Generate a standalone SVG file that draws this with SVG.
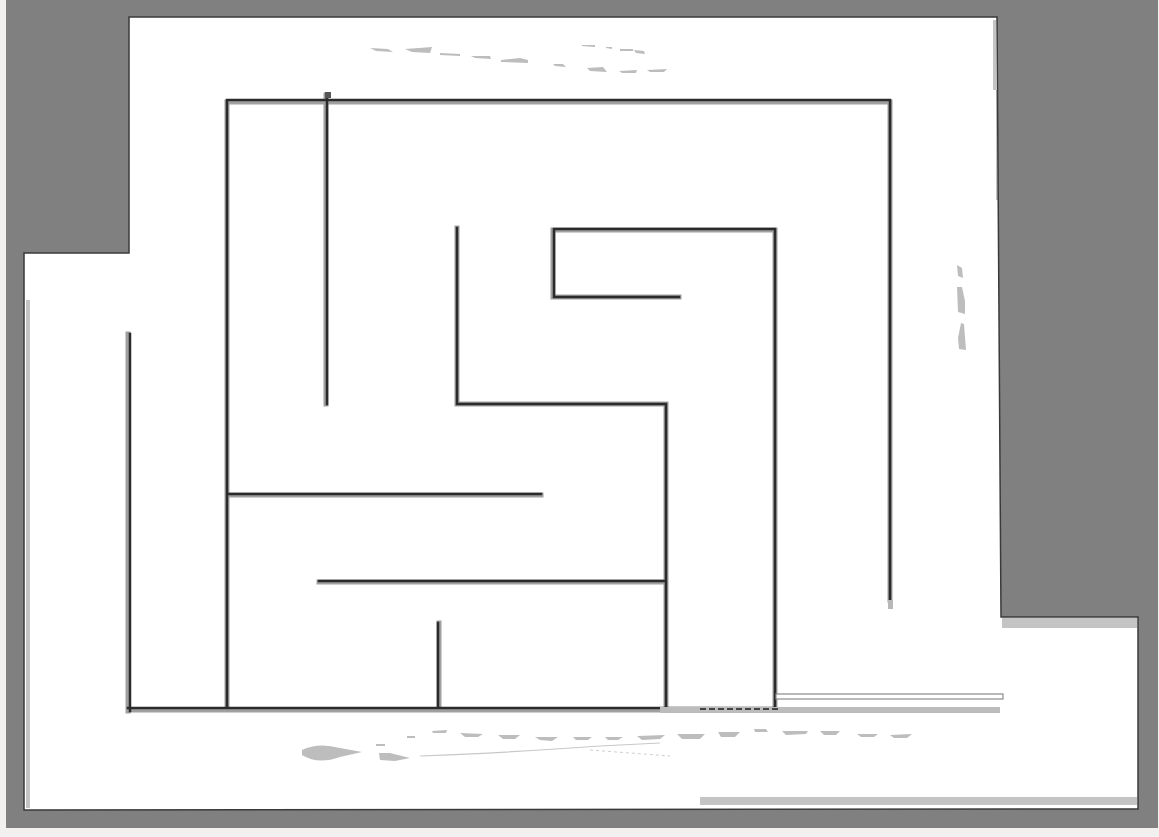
<svg xmlns="http://www.w3.org/2000/svg" width="1159" height="837" viewBox="0 0 1159 837">
<style>
.wall{stroke:#2b2b2b;stroke-width:2.5;fill:none;stroke-linecap:square}
.halo{stroke:#a0a0a0;stroke-width:5;fill:none;stroke-linecap:square}
.edge{stroke:#3a3a3a;stroke-width:1.5;fill:none}
.band{fill:#c4c4c4}
.trace{fill:#bdbdbd}
</style>
<rect x="0" y="0" width="1159" height="837" fill="#f2f1ef"/>
<rect x="6" y="0" width="1152" height="828" fill="#808080"/>
<g id="free-space">
<polygon points="129,17 997,17 1001,617 1138,617 1138,809 24,810 24,253 129,253" fill="#ffffff"/>
<rect class="band" x="1002" y="618" width="135" height="10"/>
<rect class="band" x="700" y="797" width="437" height="8"/>
<rect class="band" x="26" y="300" width="4" height="508"/>
<rect class="band" x="993" y="20" width="3" height="70"/>
<rect class="band" x="996" y="90" width="2" height="110"/>
<polygon class="edge" points="129,17 997,17 1001,617 1138,617 1138,809 24,810 24,253 129,253"/>
</g>
<g id="walls">
<path class="halo" d="M227,102 H890 M227,102 V708 M326,95 V404 M890,102 V600 M128,334 V711 M457,228 V404 H666 V706 M553,230 V297 H679 M553,230 H775 V706 M227,495 H541 M319,582 H666 M439,623 V706 M128,710 H775"/>
<path class="wall" d="M227,100 H890 M227,100 V707 M327,95 V404 M890,100 V600 M130,334 V711 M457,228 V404 H666 V706 M554,229 V297 H679 M554,229 H775 V706 M227,494 H541 M319,581 H666 M438,623 V706 M128,708 H775"/>
<rect x="888" y="600" width="5" height="9" fill="#b8b8b8"/>
<rect x="776" y="694" width="227" height="5" fill="#ffffff" stroke="#8a8a8a" stroke-width="1.2"/>
<rect x="660" y="707" width="340" height="6" fill="#bcbcbc"/>
<line x1="700" y1="709" x2="780" y2="709" stroke="#444" stroke-width="2" stroke-dasharray="6,3"/>
<rect x="325" y="92" width="6" height="6" fill="#555"/>
</g>
<g id="laser-traces">
<polygon class="trace" points="370,48 388,49 393,52 376,51"/>
<polygon class="trace" points="405,49 432,47 430,53 412,52" fill="#999"/>
<polygon class="trace" points="440,53 460,54 460,56 440,55"/>
<polygon class="trace" points="471,56 490,56 491,59 475,58"/>
<polygon class="trace" points="501,60 520,58 528,60 528,63 501,62"/>
<polygon class="trace" points="553,64 563,64 566,67 555,66"/>
<polygon class="trace" points="587,68 603,67 607,72 590,71"/>
<polygon class="trace" points="619,71 637,70 636,73 622,73"/>
<polygon class="trace" points="647,70 667,69 664,72 650,72"/>
<polygon class="trace" points="582,45 595,45 595,47 582,46"/>
<polygon class="trace" points="606,47 612,47 612,49 606,48"/>
<polygon class="trace" points="620,49 633,49 633,51 620,51"/>
<polygon class="trace" points="634,50 644,51 645,54 636,53"/>
<polygon class="trace" points="957,265 962,268 963,278 958,276"/>
<polygon class="trace" points="957,287 962,287 965,301 965,314 958,312"/>
<polygon class="trace" points="961,323 964,324 966,350 959,349 958,338"/>
<path class="trace" d="M302,750 Q318,742 340,748 L362,752 L340,757 Q318,765 302,755 Z"/>
<polygon class="trace" points="379,753 390,753 410,758 395,761 380,760"/>
<polygon class="trace" points="376,744 385,744 385,746 376,746"/>
<polygon class="trace" points="407,736 415,736 415,738 407,738"/>
<polygon class="trace" points="432,731 447,730 446,733 433,733"/>
<polygon class="trace" points="460,733 483,734 478,737 465,737"/>
<polygon class="trace" points="498,735 520,735 515,739 503,739"/>
<polygon class="trace" points="535,737 558,737 552,741 540,740"/>
<polygon class="trace" points="573,737 592,737 588,740 576,740"/>
<polygon class="trace" points="605,737 623,737 618,740 608,740"/>
<polygon class="trace" points="637,736 665,735 660,739 642,740"/>
<polygon class="trace" points="677,734 705,734 700,739 682,739"/>
<polygon class="trace" points="718,732 740,732 735,737 721,737"/>
<polygon class="trace" points="754,729 766,729 768,732 755,732"/>
<polygon class="trace" points="782,731 808,731 806,734 786,735"/>
<polygon class="trace" points="820,731 840,731 836,735 824,735"/>
<polygon class="trace" points="857,734 878,734 874,737 861,737"/>
<polygon class="trace" points="890,735 912,734 907,738 894,738"/>
<path d="M420,756 Q520,752 600,746 L660,743" stroke="#c8c8c8" stroke-width="1.2" fill="none"/>
<path d="M590,750 L670,756" stroke="#cfcfcf" stroke-width="1" stroke-dasharray="3,3" fill="none"/>
</g>
</svg>
